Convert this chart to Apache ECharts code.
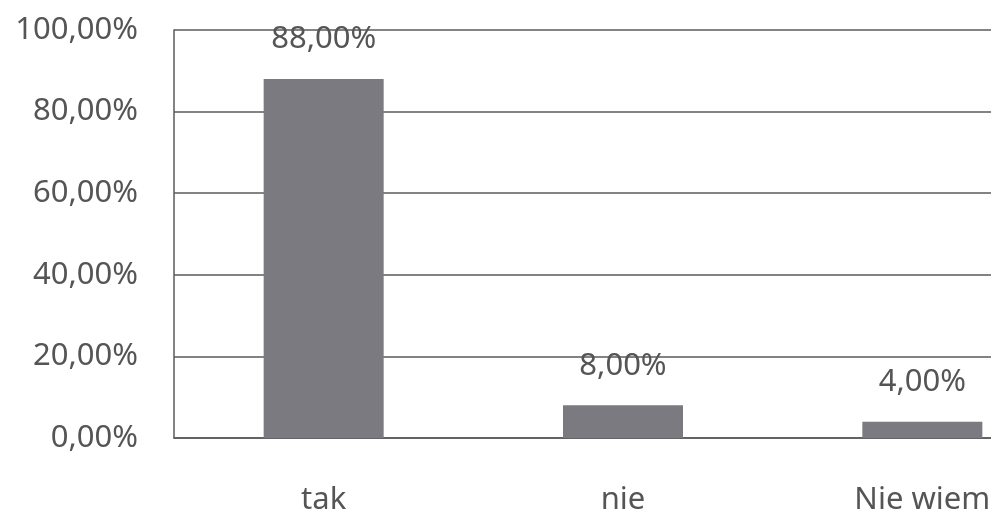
<!DOCTYPE html>
<html>
<head>
<meta charset="utf-8">
<script src="https://cdn.jsdelivr.net/npm/echarts@6/dist/echarts.min.js"></script>
<style>
  html, body { margin: 0; padding: 0; background: #fff; overflow: hidden; width: 991px; height: 515px; }
  /* the plot runs past the right edge of the window, like the cropped scan */
  #chart { width: 1072px; height: 515px; }
</style>
</head>
<body>
<div id="chart"></div>
<script>
const categories = ["tak", "nie", "Nie wiem"];
const values = [88, 8, 4];
const yTicks = [0, 20, 40, 60, 80, 100];

const fmt = (v) => v.toFixed(2).replace(".", ",") + "%";

const textColor = "#555555";
const font = "Noto Sans";

const chart = echarts.init(document.getElementById("chart"), null, { renderer: "canvas" });

chart.setOption({
  backgroundColor: "#fff",
  animation: false,
  grid: { left: 174, right: 0, top: 30, bottom: 77, outerBoundsMode: "none" },
  xAxis: {
    type: "category",
    data: categories,
    axisLine: { lineStyle: { color: "#5a5a5a", width: 1.5 } },
    axisTick: { show: false },
    axisLabel: {
      color: textColor,
      fontFamily: font,
      fontSize: 31,
      margin: 47,
    },
  },
  yAxis: {
    type: "value",
    min: yTicks[0],
    max: yTicks[yTicks.length - 1],
    interval: yTicks[1] - yTicks[0],
    axisLine: { show: true, lineStyle: { color: "#5a5a5a", width: 1.5 } },
    axisTick: { show: false },
    splitLine: { lineStyle: { color: "#5a5a5a", width: 1.5 } },
    axisLabel: {
      color: textColor,
      fontFamily: font,
      fontSize: 31,
      margin: 36,
      formatter: (v) => fmt(v),
    },
  },
  series: [
    {
      type: "bar",
      data: values,
      barWidth: 120,
      itemStyle: { color: "#7a7a80" },
      label: {
        show: true,
        position: "top",
        distance: 24,
        color: textColor,
        fontFamily: font,
        fontSize: 31,
        formatter: (p) => fmt(p.value),
      },
    },
  ],
});
</script>
</body>
</html>
